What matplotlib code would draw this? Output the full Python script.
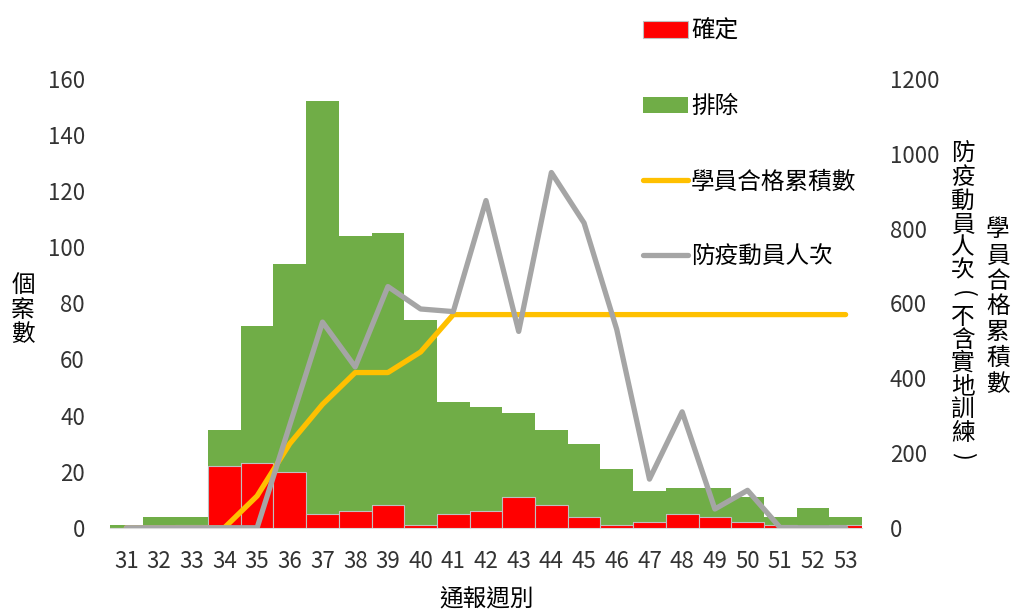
import numpy as np
import matplotlib.pyplot as plt

plt.rcParams['font.family'] = ['Noto Sans CJK TC', 'DejaVu Sans']

weeks = [str(w) for w in range(31, 54)]
confirmed = [0, 0, 1, 22, 23, 20, 5, 6, 8, 1, 5, 6, 11, 8, 4, 1, 2, 5, 4, 2, 1, 0, 1]
excluded = [1, 4, 3, 13, 49, 74, 147, 98, 97, 73, 40, 37, 30, 27, 26, 20, 11, 9, 10, 9, 3, 7, 3]
passed_cum = [0, 0, 0, 0, 85, 225, 330, 415, 415, 470, 570, 570, 570, 570, 570, 570,
              570, 570, 570, 570, 570, 570, 570]
staff = [0, 0, 0, 0, 0, 275, 550, 430, 645, 585, 578, 875, 525, 950, 815, 530,
         130, 310, 50, 100, 0, 0, 0]

W, H = 1011, 613
fig = plt.figure(figsize=(W / 100, H / 100), dpi=100)
ax = fig.add_axes([0.1088, 0.1391, 0.7438, 0.732])
x = np.arange(len(weeks))

b1 = ax.bar(x, confirmed, width=1.0, color='#FF0000', edgecolor='#BFBFBF', linewidth=0.8, zorder=3)
b2 = ax.bar(x, excluded, bottom=confirmed, width=1.0, color='#70AD47', edgecolor='none', zorder=2)

ax.set_xlim(-0.5, len(weeks) - 0.5)
ax.set_ylim(0, 160)
ax.set_yticks(range(0, 161, 20))
ax.set_xticks(x)
ax.set_xticklabels(weeks)
ax.tick_params(length=0, labelsize=16, colors='#333333')
ax.tick_params(axis='y', pad=18)
ax.tick_params(axis='x', pad=16)
for s in ['top', 'right', 'left']:
    ax.spines[s].set_visible(False)
ax.spines['bottom'].set_color('#D9D9D9')

ax2 = ax.twinx()
l1, = ax2.plot(x, passed_cum, color='#FFC000', linewidth=3.8, solid_capstyle='round', solid_joinstyle='round')
l2, = ax2.plot(x, staff, color='#A5A5A5', linewidth=3.8, solid_capstyle='round', solid_joinstyle='round')
ax2.set_ylim(0, 1200)
ax2.set_yticks(range(0, 1201, 200))
ax2.tick_params(length=0, labelsize=16, colors='#333333', pad=20)
for s in ax2.spines.values():
    s.set_visible(False)


# vertical (stacked) CJK labels, brackets turned sideways
def vtext(xc, ytop, s, pitch):
    for i, ch in enumerate(s):
        yc = ytop + (i + 0.5) * pitch
        fig.text(xc / W, 1 - yc / H, ch, ha='center', va='center', fontsize=17,
                 rotation=-90 if ch in '()' else 0)


vtext(23, 273, '個案數', 24.7)
vtext(963, 143, '防疫動員人次(不含實地訓練)', 23.2)
vtext(998, 217, '學員合格累積數', 25.7)
fig.text(487 / W, 1 - 600 / H, '通報週別', ha='center', va='center', fontsize=17)

fig.legend(handles=[b1, b2, l1, l2], labels=['確定', '排除', '學員合格累積數', '防疫動員人次'],
           loc='upper left', bbox_to_anchor=(643 / W, 1 - 20 / H), frameon=False,
           fontsize=17, labelspacing=2.21, handlelength=1.9, handletextpad=0.13,
           borderpad=0, borderaxespad=0)

fig.savefig('out.png', dpi=100)
